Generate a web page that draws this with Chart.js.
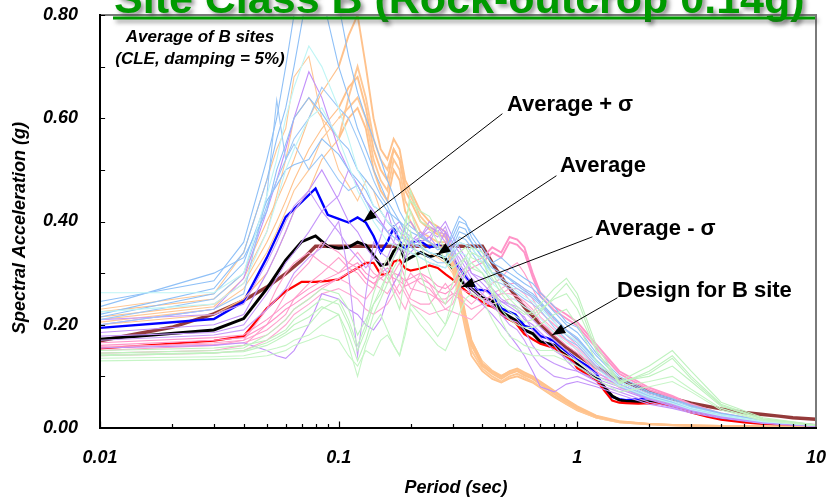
<!DOCTYPE html>
<html>
<head>
<meta charset="utf-8">
<script src="https://cdn.jsdelivr.net/npm/chart.js@4.4.1/dist/chart.umd.min.js"></script>
<style>
  html, body { margin: 0; padding: 0; background: #ffffff; }
  canvas { display: block; }
</style>
</head>
<body>
<canvas id="chart" width="827" height="500"></canvas>
<script>
// ---- Response spectra, Site Class B (5% damping) ----
const titleText = 'Site Class B (Rock-outcrop 0.14g)';
const xTickValues = [0.01, 0.1, 1, 10];
const xTickLabels = ['0.01', '0.1', '1', '10'];
const yTickValues = [0, 0.2, 0.4, 0.6, 0.8];
const yTickLabels = ['0.00', '0.20', '0.40', '0.60', '0.80'];

// periods of the statistical curves (sec)
const periodsMain = [0.01,0.03,0.04,0.05,0.06,0.07,0.08,0.09,0.1,
  0.11,0.12,0.13,0.14,0.15,0.16,0.17,0.18,0.19,0.2,
  0.22,0.24,0.26,0.28,0.3,
  0.32,0.34,0.36,0.38,0.4,0.42,0.44,0.46,0.48,0.5,
  0.55,0.6,0.65,0.7,0.75,0.8,0.85,0.9,0.95,1.0,
  1.1,1.2,1.3,1.4,1.5,1.6,1.8,2.0,
  2.2,2.4,2.6,3.0,3.5,4.0,
  5.0,6.0,7.0,8.0,10.0];

const avgPlusSigma = [0.194,0.211,0.245,0.330,0.409,0.438,0.464,0.413,0.405,
  0.398,0.408,0.398,0.372,0.340,0.360,0.388,0.362,0.346,0.360,
  0.362,0.350,0.355,0.345,0.330,
  0.310,0.292,0.283,0.268,0.267,0.265,0.256,0.244,0.232,0.228,
  0.220,0.198,0.193,0.178,0.174,0.168,0.157,0.148,0.140,0.132,
  0.120,0.106,0.076,0.060,0.056,0.054,0.056,0.058,
  0.058,0.053,0.047,0.037,0.029,0.023,
  0.016,0.012,0.009,0.007,0.004];

const average = [0.172,0.190,0.212,0.270,0.325,0.361,0.372,0.352,0.348,
  0.350,0.360,0.354,0.335,0.315,0.318,0.342,0.354,0.324,0.330,
  0.340,0.332,0.336,0.328,0.310,
  0.290,0.276,0.270,0.261,0.252,0.250,0.246,0.236,0.226,0.220,
  0.209,0.190,0.183,0.167,0.164,0.160,0.148,0.140,0.130,0.123,
  0.108,0.096,0.079,0.062,0.054,0.052,0.051,0.051,
  0.051,0.049,0.045,0.034,0.026,0.020,
  0.014,0.010,0.007,0.005,0.003];

const avgMinusSigma = [0.154,0.169,0.178,0.232,0.265,0.283,0.283,0.285,0.288,
  0.300,0.310,0.320,0.320,0.297,0.298,0.322,0.326,0.309,0.305,
  0.309,0.315,0.310,0.298,0.288,
  0.277,0.266,0.257,0.251,0.244,0.238,0.235,0.230,0.220,0.214,
  0.204,0.182,0.172,0.163,0.159,0.155,0.146,0.139,0.131,0.116,
  0.104,0.093,0.072,0.053,0.049,0.048,0.047,0.048,
  0.047,0.044,0.040,0.030,0.022,0.016,
  0.011,0.008,0.006,0.004,0.003];

// design spectrum for B site
const designPeriods = [0.01,0.02,0.03,0.04,0.05,0.06,0.07,0.08,0.4,0.45,0.5,0.6,0.7,0.8,0.9,1.0,1.2,1.5,2.0,2.5,3.0,4.0,5.0,6.0,7.0,8.0,10.0];
const designB = [0.169,0.195,0.221,0.247,0.273,0.299,0.325,0.352,0.352,0.312,0.281,0.234,0.201,0.176,0.156,0.141,0.117,0.094,0.071,0.057,0.048,0.037,0.030,0.026,0.023,0.020,0.017];

// periods of the individual site records (sec)
const periodsSite = [0.01,0.03,0.04,0.05,0.055,0.06,0.065,0.075,0.085,0.1,
  0.11,0.12,0.13,0.14,0.15,0.16,0.17,0.18,0.19,0.2,
  0.22,0.24,0.26,0.28,0.3,0.32,0.34,0.36,0.4,0.44,
  0.48,0.52,0.56,0.6,0.65,0.7,0.8,0.9,1.0,1.2,
  1.5,2.0,2.5,3.0,4.0,6.0,10.0];

const recGreen1 = [0.150,0.155,0.160,0.170,0.180,0.190,0.210,0.230,0.250,0.240,
  0.200,0.150,0.190,0.240,0.270,0.300,0.330,0.360,0.400,0.440,
  0.420,0.410,0.380,0.340,0.330,0.340,0.350,0.330,0.320,0.290,
  0.260,0.240,0.230,0.220,0.225,0.240,0.270,0.290,0.260,0.160,
  0.090,0.120,0.150,0.110,0.050,0.020,0.006];
const recGreen2 = [0.140,0.145,0.150,0.165,0.175,0.185,0.200,0.215,0.235,0.220,
  0.180,0.130,0.170,0.220,0.250,0.280,0.310,0.330,0.380,0.460,
  0.400,0.390,0.360,0.320,0.310,0.320,0.330,0.310,0.300,0.270,
  0.240,0.225,0.215,0.205,0.210,0.225,0.255,0.280,0.250,0.150,
  0.085,0.110,0.140,0.100,0.046,0.018,0.006];
const recGreen3 = [0.135,0.138,0.140,0.150,0.155,0.160,0.170,0.180,0.200,0.220,
  0.160,0.100,0.160,0.200,0.220,0.190,0.160,0.141,0.190,0.240,
  0.220,0.200,0.177,0.200,0.250,0.290,0.310,0.320,0.300,0.260,
  0.209,0.177,0.170,0.160,0.155,0.150,0.150,0.140,0.130,0.100,
  0.080,0.090,0.100,0.075,0.038,0.015,0.005];
const recGreen4 = [0.145,0.150,0.155,0.180,0.195,0.210,0.230,0.250,0.270,0.260,
  0.230,0.180,0.210,0.240,0.260,0.300,0.260,0.230,0.300,0.380,
  0.300,0.250,0.220,0.200,0.230,0.270,0.300,0.340,0.330,0.267,
  0.230,0.210,0.200,0.195,0.195,0.200,0.220,0.230,0.200,0.130,
  0.090,0.100,0.120,0.090,0.042,0.017,0.005];
const recGreen5 = [0.130,0.133,0.135,0.140,0.145,0.150,0.160,0.170,0.180,0.170,
  0.140,0.120,0.150,0.140,0.170,0.180,0.160,0.140,0.180,0.230,
  0.200,0.180,0.160,0.150,0.180,0.220,0.250,0.260,0.250,0.210,
  0.180,0.160,0.150,0.145,0.140,0.140,0.140,0.130,0.120,0.095,
  0.070,0.080,0.090,0.070,0.035,0.014,0.005];
const recGreen6 = [0.142,0.146,0.148,0.160,0.170,0.180,0.190,0.200,0.230,0.250,
  0.210,0.160,0.200,0.260,0.300,0.330,0.300,0.280,0.350,0.420,
  0.360,0.300,0.260,0.240,0.280,0.310,0.330,0.350,0.340,0.300,
  0.270,0.250,0.235,0.225,0.220,0.230,0.250,0.260,0.230,0.150,
  0.088,0.105,0.135,0.095,0.044,0.017,0.005];

const recCyan1 = [0.262,0.262,0.300,0.450,0.520,0.600,0.660,0.740,0.700,0.620,
  0.560,0.500,0.470,0.430,0.420,0.400,0.390,0.380,0.375,0.370,
  0.355,0.340,0.335,0.330,0.345,0.360,0.355,0.350,0.320,0.300,
  0.285,0.275,0.265,0.255,0.245,0.232,0.205,0.182,0.168,0.128,
  0.090,0.064,0.052,0.039,0.026,0.013,0.005];
const recCyan2 = [0.225,0.240,0.280,0.380,0.440,0.500,0.540,0.600,0.620,0.560,
  0.510,0.460,0.430,0.400,0.380,0.360,0.355,0.350,0.345,0.340,
  0.330,0.320,0.315,0.310,0.325,0.340,0.335,0.320,0.300,0.280,
  0.265,0.255,0.245,0.235,0.225,0.212,0.185,0.165,0.152,0.115,
  0.082,0.060,0.048,0.036,0.024,0.012,0.005];

const recBlue1 = [0.235,0.300,0.330,0.420,0.500,0.550,0.600,0.640,0.610,0.560,
  0.540,0.500,0.480,0.460,0.440,0.420,0.410,0.400,0.390,0.380,
  0.370,0.360,0.345,0.350,0.370,0.400,0.395,0.380,0.350,0.320,
  0.310,0.300,0.290,0.280,0.270,0.255,0.225,0.200,0.185,0.140,
  0.095,0.068,0.055,0.042,0.028,0.014,0.006];
const recBlue2 = [0.220,0.270,0.340,0.480,0.560,0.620,0.700,0.860,0.840,0.700,
  0.640,0.580,0.540,0.500,0.470,0.440,0.420,0.400,0.380,0.360,
  0.350,0.340,0.335,0.330,0.350,0.380,0.375,0.360,0.330,0.300,
  0.300,0.290,0.280,0.270,0.260,0.245,0.215,0.190,0.175,0.132,
  0.090,0.064,0.052,0.040,0.026,0.013,0.005];
const recBlue3 = [0.210,0.250,0.300,0.430,0.480,0.520,0.560,0.600,0.660,0.620,
  0.600,0.560,0.520,0.480,0.450,0.430,0.400,0.380,0.360,0.350,
  0.340,0.330,0.320,0.320,0.340,0.370,0.365,0.350,0.320,0.300,
  0.290,0.280,0.270,0.262,0.252,0.238,0.205,0.180,0.165,0.125,
  0.085,0.060,0.050,0.038,0.025,0.012,0.005];
const recBlue4 = [0.245,0.285,0.360,0.520,0.600,0.700,0.800,0.900,0.950,0.820,
  0.720,0.650,0.600,0.560,0.520,0.480,0.450,0.420,0.400,0.390,
  0.375,0.360,0.350,0.340,0.380,0.410,0.400,0.370,0.340,0.320,
  0.330,0.315,0.300,0.290,0.280,0.262,0.235,0.205,0.195,0.145,
  0.100,0.070,0.057,0.044,0.029,0.015,0.006];
const recBlue5 = [0.200,0.230,0.260,0.450,0.635,0.520,0.550,0.500,0.530,0.480,
  0.460,0.470,0.440,0.410,0.395,0.380,0.370,0.360,0.350,0.340,
  0.330,0.320,0.315,0.310,0.330,0.360,0.355,0.340,0.310,0.285,
  0.280,0.270,0.260,0.250,0.240,0.228,0.195,0.172,0.160,0.120,
  0.080,0.058,0.048,0.036,0.024,0.012,0.005];
const recBlue6 = [0.215,0.260,0.320,0.440,0.470,0.500,0.510,0.520,0.560,0.530,
  0.500,0.480,0.460,0.430,0.420,0.400,0.385,0.370,0.365,0.360,
  0.350,0.340,0.335,0.330,0.360,0.390,0.385,0.360,0.330,0.310,
  0.300,0.288,0.276,0.266,0.256,0.242,0.212,0.188,0.172,0.130,
  0.090,0.062,0.050,0.039,0.026,0.013,0.005];

const recPurple1 = [0.200,0.230,0.290,0.420,0.480,0.540,0.600,0.690,0.640,0.540,
  0.500,0.470,0.440,0.420,0.400,0.380,0.390,0.400,0.380,0.370,
  0.360,0.370,0.390,0.380,0.360,0.340,0.320,0.300,0.280,0.260,
  0.245,0.235,0.225,0.215,0.190,0.175,0.150,0.135,0.120,0.100,
  0.085,0.060,0.045,0.035,0.022,0.011,0.004];
const recPurple2 = [0.185,0.200,0.220,0.300,0.340,0.380,0.420,0.460,0.500,0.440,
  0.400,0.380,0.350,0.330,0.370,0.420,0.380,0.360,0.390,0.400,
  0.370,0.390,0.380,0.400,0.370,0.350,0.330,0.300,0.290,0.270,
  0.250,0.240,0.230,0.210,0.200,0.185,0.160,0.130,0.110,0.090,
  0.075,0.055,0.042,0.033,0.021,0.010,0.004];
const recPurple3 = [0.170,0.180,0.190,0.230,0.250,0.270,0.300,0.330,0.350,0.400,
  0.300,0.140,0.260,0.360,0.340,0.330,0.360,0.390,0.370,0.350,
  0.370,0.380,0.370,0.390,0.350,0.320,0.300,0.280,0.260,0.240,
  0.220,0.200,0.190,0.170,0.140,0.120,0.100,0.095,0.100,0.085,
  0.070,0.050,0.040,0.031,0.020,0.010,0.004];
const recPurple4 = [0.155,0.160,0.165,0.150,0.140,0.135,0.150,0.200,0.260,0.250,
  0.230,0.220,0.200,0.190,0.210,0.250,0.280,0.300,0.330,0.340,
  0.360,0.370,0.350,0.380,0.330,0.300,0.280,0.260,0.240,0.220,
  0.200,0.180,0.160,0.140,0.110,0.080,0.070,0.085,0.090,0.080,
  0.065,0.046,0.038,0.029,0.019,0.009,0.003];
const recPurple5 = [0.210,0.220,0.240,0.320,0.360,0.400,0.430,0.460,0.420,0.450,
  0.500,0.470,0.440,0.420,0.400,0.380,0.360,0.350,0.340,0.360,
  0.370,0.400,0.380,0.360,0.345,0.330,0.310,0.290,0.270,0.255,
  0.245,0.240,0.235,0.225,0.210,0.195,0.170,0.150,0.130,0.105,
  0.090,0.065,0.048,0.037,0.023,0.011,0.004];
const recPurple6 = [0.178,0.185,0.200,0.260,0.290,0.320,0.340,0.380,0.420,0.380,
  0.350,0.330,0.310,0.330,0.320,0.300,0.330,0.350,0.330,0.360,
  0.380,0.360,0.390,0.370,0.340,0.310,0.290,0.270,0.250,0.235,
  0.220,0.210,0.205,0.190,0.160,0.140,0.125,0.115,0.110,0.095,
  0.080,0.056,0.043,0.034,0.021,0.010,0.004];

const recPink1 = [0.165,0.175,0.180,0.210,0.225,0.240,0.250,0.270,0.285,0.300,
  0.310,0.320,0.300,0.290,0.300,0.310,0.300,0.295,0.285,0.290,
  0.300,0.290,0.275,0.270,0.280,0.300,0.310,0.320,0.330,0.350,
  0.340,0.370,0.365,0.350,0.300,0.262,0.235,0.220,0.205,0.162,
  0.110,0.078,0.062,0.046,0.028,0.014,0.006];
const recPink2 = [0.160,0.170,0.175,0.200,0.215,0.230,0.240,0.260,0.275,0.290,
  0.300,0.310,0.290,0.280,0.290,0.300,0.290,0.285,0.275,0.280,
  0.290,0.280,0.265,0.260,0.270,0.290,0.300,0.310,0.320,0.340,
  0.330,0.360,0.355,0.340,0.292,0.255,0.228,0.212,0.198,0.155,
  0.105,0.074,0.059,0.044,0.027,0.013,0.006];
const recPink3 = [0.150,0.160,0.170,0.190,0.205,0.220,0.250,0.280,0.300,0.330,
  0.310,0.300,0.280,0.270,0.300,0.330,0.280,0.260,0.280,0.300,
  0.280,0.270,0.250,0.250,0.260,0.260,0.250,0.240,0.260,0.280,
  0.290,0.310,0.320,0.300,0.270,0.240,0.210,0.190,0.170,0.130,
  0.090,0.065,0.052,0.040,0.025,0.012,0.005];
const recPink4 = [0.145,0.150,0.160,0.200,0.230,0.260,0.290,0.320,0.360,0.340,
  0.320,0.310,0.290,0.280,0.270,0.260,0.280,0.300,0.270,0.250,
  0.240,0.240,0.260,0.280,0.260,0.250,0.240,0.230,0.240,0.260,
  0.270,0.280,0.280,0.270,0.250,0.225,0.200,0.180,0.160,0.120,
  0.085,0.060,0.048,0.036,0.023,0.011,0.005];
const recPink5 = [0.140,0.145,0.150,0.170,0.185,0.200,0.220,0.240,0.260,0.270,
  0.260,0.250,0.230,0.220,0.230,0.240,0.260,0.280,0.260,0.240,
  0.230,0.220,0.225,0.230,0.225,0.220,0.215,0.210,0.230,0.250,
  0.260,0.270,0.270,0.260,0.240,0.215,0.190,0.170,0.150,0.110,
  0.080,0.058,0.046,0.035,0.022,0.011,0.004];
const recPink6 = [0.155,0.165,0.170,0.230,0.270,0.300,0.320,0.340,0.320,0.300,
  0.320,0.340,0.320,0.300,0.290,0.280,0.300,0.320,0.290,0.270,
  0.265,0.260,0.250,0.240,0.255,0.270,0.265,0.260,0.250,0.255,
  0.260,0.260,0.255,0.245,0.230,0.205,0.180,0.160,0.145,0.110,
  0.078,0.056,0.045,0.034,0.022,0.011,0.004];
const recPink7 = [0.158,0.162,0.165,0.180,0.195,0.210,0.230,0.250,0.270,0.290,
  0.280,0.260,0.250,0.270,0.310,0.290,0.270,0.250,0.230,0.260,
  0.300,0.280,0.250,0.230,0.240,0.270,0.280,0.270,0.250,0.240,
  0.245,0.250,0.250,0.240,0.225,0.205,0.185,0.170,0.155,0.118,
  0.082,0.060,0.048,0.036,0.023,0.011,0.005];

const recOrange1 = [0.225,0.250,0.300,0.400,0.440,0.480,0.520,0.600,0.650,0.700,
  0.760,0.800,0.700,0.600,0.540,0.520,0.560,0.540,0.480,0.460,
  0.420,0.400,0.390,0.380,0.340,0.280,0.220,0.170,0.125,0.110,
  0.100,0.110,0.115,0.108,0.100,0.090,0.072,0.055,0.042,0.024,
  0.013,0.008,0.006,0.005,0.004,0.003,0.002];
const recOrange2 = [0.215,0.240,0.280,0.360,0.400,0.440,0.480,0.540,0.580,0.620,
  0.660,0.680,0.620,0.540,0.500,0.480,0.540,0.520,0.460,0.440,
  0.400,0.385,0.375,0.370,0.330,0.270,0.210,0.160,0.120,0.105,
  0.095,0.105,0.110,0.102,0.095,0.085,0.066,0.050,0.038,0.022,
  0.012,0.008,0.006,0.005,0.004,0.003,0.002];
const recOrange3 = [0.205,0.230,0.270,0.340,0.380,0.420,0.460,0.500,0.560,0.600,
  0.620,0.640,0.600,0.520,0.480,0.460,0.520,0.500,0.440,0.420,
  0.380,0.370,0.360,0.360,0.320,0.260,0.200,0.150,0.115,0.100,
  0.090,0.100,0.105,0.098,0.090,0.080,0.062,0.047,0.035,0.020,
  0.011,0.007,0.005,0.004,0.003,0.002,0.002];
const recOrange4 = [0.230,0.260,0.340,0.480,0.540,0.580,0.680,0.720,0.600,0.500,
  0.470,0.440,0.480,0.460,0.420,0.400,0.390,0.380,0.370,0.360,
  0.350,0.340,0.330,0.320,0.300,0.260,0.210,0.170,0.130,0.112,
  0.102,0.110,0.112,0.104,0.096,0.086,0.068,0.052,0.040,0.023,
  0.012,0.008,0.006,0.005,0.004,0.003,0.002];
const recOrange5 = [0.200,0.220,0.250,0.300,0.340,0.380,0.420,0.460,0.520,0.560,
  0.600,0.620,0.580,0.500,0.460,0.440,0.500,0.480,0.420,0.400,
  0.370,0.360,0.350,0.350,0.310,0.250,0.190,0.140,0.110,0.095,
  0.088,0.096,0.100,0.094,0.088,0.078,0.060,0.046,0.034,0.020,
  0.011,0.007,0.005,0.004,0.003,0.002,0.002];
const recOrange6 = [0.210,0.235,0.290,0.380,0.450,0.520,0.600,0.640,0.600,0.560,
  0.640,0.700,0.640,0.560,0.520,0.500,0.540,0.520,0.470,0.450,
  0.410,0.390,0.380,0.375,0.335,0.275,0.215,0.165,0.122,0.108,
  0.098,0.108,0.112,0.106,0.098,0.088,0.070,0.054,0.040,0.023,
  0.012,0.008,0.006,0.005,0.004,0.003,0.002];

// record colour, stroke width, and period beyond which the stroke thickens
const siteRecords = [
  [recGreen1, '#bff2bf', 1.1, 99], [recGreen2, '#bff2bf', 1.1, 99], [recGreen3, '#c6f5c6', 1.1, 99], [recGreen4, '#bff2bf', 1.1, 99], [recGreen5, '#c6f5c6', 1.1, 99], [recGreen6, '#c2f3c2', 1.1, 99],
  [recCyan1, '#bff5f5', 1.1, 99], [recCyan2, '#bff5f5', 1.1, 99],
  [recBlue1, '#8fc0f7', 1.1, 99], [recBlue2, '#8fc0f7', 1.1, 99], [recBlue3, '#9cc8f7', 1.1, 99], [recBlue4, '#8fc0f7', 1.1, 99], [recBlue5, '#9cc8f7', 1.1, 99], [recBlue6, '#8fc0f7', 1.1, 99],
  [recPurple1, '#c291fa', 1.1, 99], [recPurple2, '#c291fa', 1.1, 99], [recPurple3, '#c99cfa', 1.1, 99], [recPurple4, '#c291fa', 1.1, 99], [recPurple5, '#c99cfa', 1.1, 99], [recPurple6, '#c596fa', 1.1, 99],
  [recPink1, '#ff94c8', 1.1, 0.4], [recPink2, '#ff94c8', 1.1, 0.4], [recPink3, '#ffa0cc', 1.1, 99], [recPink4, '#ffa0cc', 1.1, 99], [recPink5, '#ffa8d2', 1.1, 99], [recPink6, '#ffa0cc', 1.1, 99], [recPink7, '#ffa8d2', 1.1, 99],
  [recOrange1, '#ffc28c', 1.1, 0.09], [recOrange2, '#ffc28c', 1.1, 0.09], [recOrange3, '#ffc896', 1.1, 0.09], [recOrange4, '#ffc896', 1.1, 99], [recOrange5, '#ffc28c', 1.1, 0.09], [recOrange6, '#ffc896', 1.1, 0.09]
];

function toPoints(periods, values) {
  return values.map((v, i) => ({ x: periods[i], y: v }));
}

const datasets = siteRecords.map(([vals, col, w, thickFrom]) => ({
  data: toPoints(periodsSite, vals),
  borderColor: col,
  borderWidth: w,
  segment: { borderWidth: (s) => (s.p0.parsed.x >= thickFrom ? 1.9 : w) },
  pointRadius: 0,
  tension: 0,
  fill: false
}));

datasets.push(
  { label: 'Average - σ', data: toPoints(periodsMain, avgMinusSigma), borderColor: '#ff0000', borderWidth: 2.2, pointRadius: 0, fill: false },
  { label: 'Average', data: toPoints(periodsMain, average), borderColor: '#000000', borderWidth: 3, pointRadius: 0, fill: false },
  { label: 'Average + σ', data: toPoints(periodsMain, avgPlusSigma), borderColor: '#0000ff', borderWidth: 2.4, pointRadius: 0, fill: false },
  { label: 'Design for B site', data: toPoints(designPeriods, designB), borderColor: '#943a3a', borderWidth: 3.5, pointRadius: 0, fill: false }
);

const FONT = '"Liberation Sans", Arial, Helvetica, sans-serif';

// arrow callouts: text, text anchor (px), arrow start (px), arrow tip in data units
const callouts = [
  { text: 'Average + σ', tx: 507, ty: 111, sx: 502, sy: 114, period: 0.127, value: 0.400 },
  { text: 'Average', tx: 560, ty: 172, sx: 556, sy: 176, period: 0.259, value: 0.336 },
  { text: 'Average - σ', tx: 595, ty: 235, sx: 592, sy: 237, period: 0.327, value: 0.273 },
  { text: 'Design for B site', tx: 617, ty: 297, sx: 617, sy: 298, period: 0.785, value: 0.180 }
];

function drawArrow(ctx, x0, y0, x1, y1) {
  ctx.beginPath();
  ctx.moveTo(x0, y0);
  ctx.lineTo(x1, y1);
  ctx.lineWidth = 1;
  ctx.strokeStyle = '#000';
  ctx.stroke();
  const a = Math.atan2(y1 - y0, x1 - x0), L = 13, W = 5;
  ctx.beginPath();
  ctx.moveTo(x1, y1);
  ctx.lineTo(x1 - L * Math.cos(a) + W * Math.sin(a), y1 - L * Math.sin(a) - W * Math.cos(a));
  ctx.lineTo(x1 - L * Math.cos(a) - W * Math.sin(a), y1 - L * Math.sin(a) + W * Math.cos(a));
  ctx.closePath();
  ctx.fillStyle = '#000';
  ctx.fill();
}

const decorations = {
  id: 'decorations',
  afterDatasetsDraw(chart) {
    const { ctx, chartArea: ca, scales: { x, y } } = chart;
    ctx.save();

    // frame: grey top/right, black axes
    ctx.lineCap = 'square';
    ctx.strokeStyle = '#7a7a7a';
    ctx.lineWidth = 2;
    ctx.beginPath();
    ctx.moveTo(ca.left, ca.top); ctx.lineTo(ca.right, ca.top); ctx.lineTo(ca.right, ca.bottom);
    ctx.stroke();
    ctx.strokeStyle = '#000';
    ctx.beginPath();
    ctx.moveTo(ca.left, ca.top); ctx.lineTo(ca.left, ca.bottom); ctx.lineTo(ca.right, ca.bottom);
    ctx.stroke();

    // inward tick marks
    ctx.lineWidth = 1.2;
    ctx.beginPath();
    for (const d of [0.01, 0.1, 1]) {
      for (let k = 1; k <= 9; k++) {
        const px = Math.round(x.getPixelForValue(k * d)) + 0.5;
        const len = k === 1 ? 6 : 3.5;
        ctx.moveTo(px, ca.bottom); ctx.lineTo(px, ca.bottom - len);
      }
    }
    for (let i = 1; i <= 8; i++) {
      const py = Math.round(y.getPixelForValue(i / 10)) + 0.5;
      ctx.moveTo(ca.left, py); ctx.lineTo(ca.left + 4.5, py);
    }
    ctx.stroke();

    // note in the upper left corner
    ctx.fillStyle = '#000';
    ctx.textAlign = 'center';
    ctx.textBaseline = 'alphabetic';
    ctx.font = 'italic bold 17px ' + FONT;
    ctx.fillText('Average of B sites', 200, 42);
    ctx.fillText('(CLE, damping = 5%)', 200, 64);

    // callouts
    ctx.textAlign = 'left';
    ctx.font = 'bold 22px ' + FONT;
    for (const c of callouts) {
      ctx.fillText(c.text, c.tx, c.ty);
      drawArrow(ctx, c.sx, c.sy, x.getPixelForValue(c.period), y.getPixelForValue(c.value));
    }

    // axis titles
    ctx.font = 'italic bold 18px ' + FONT;
    ctx.textAlign = 'center';
    ctx.textBaseline = 'middle';
    ctx.fillText('Period (sec)', 456, 488);
    ctx.save();
    ctx.translate(20, 228);
    ctx.rotate(-Math.PI / 2);
    ctx.fillText('Spectral Acceleration (g)', 0, 0);
    ctx.restore();

    // headline
    ctx.shadowColor = 'rgba(60,60,60,0.55)';
    ctx.shadowOffsetX = 3;
    ctx.shadowOffsetY = 3;
    ctx.shadowBlur = 4;
    ctx.fillStyle = '#009a00';
    ctx.textAlign = 'left';
    ctx.textBaseline = 'alphabetic';
    ctx.font = 'bold 43px ' + FONT;
    ctx.fillText(titleText, 114, 13);
    ctx.fillRect(113, 16.5, 702, 3);

    ctx.restore();
  }
};

new Chart(document.getElementById('chart'), {
  type: 'line',
  data: { datasets },
  options: {
    responsive: false,
    animation: false,
    devicePixelRatio: 1,
    layout: { padding: { top: 15, right: 11, left: 0, bottom: 0 } },
    plugins: { legend: { display: false }, tooltip: { enabled: false }, title: { display: false } },
    elements: { line: { tension: 0 } },
    scales: {
      x: {
        type: 'logarithmic',
        position: 'bottom',
        min: 0.01,
        max: 10,
        grid: { display: false, drawTicks: false },
        border: { display: false },
        afterBuildTicks: (scale) => { scale.ticks = xTickValues.map(v => ({ value: v, major: true })); },
        afterFit: (scale) => { scale.height = 72; scale.paddingLeft = 0; scale.paddingRight = 0; },
        ticks: {
          autoSkip: false,
          maxRotation: 0,
          padding: 19,
          color: '#000',
          font: { family: FONT, size: 18, weight: 'bold', style: 'italic' },
          callback: (v, i) => xTickLabels[i]
        }
      },
      y: {
        min: 0,
        max: 0.8,
        grid: { display: false, drawTicks: false },
        border: { display: false },
        afterBuildTicks: (scale) => { scale.ticks = yTickValues.map(v => ({ value: v })); },
        afterFit: (scale) => { scale.width = 100; scale.paddingTop = 0; scale.paddingBottom = 0; },
        ticks: {
          padding: 22,
          color: '#000',
          font: { family: FONT, size: 18, weight: 'bold', style: 'italic' },
          callback: (v, i) => yTickLabels[i]
        }
      }
    }
  },
  plugins: [decorations]
});
</script>
</body>
</html>
